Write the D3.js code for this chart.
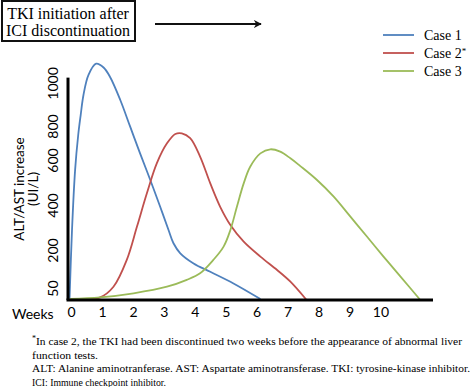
<!DOCTYPE html>
<html lang="en">
  <head>
    <meta charset="utf-8">
    <title>ALT/AST increase after TKI initiation</title>
    <style>
      body { margin: 0; background: #fff; }
      svg { display: block; }
    </style>
  </head>
  <body>
    <script src="https://d3js.org/d3.v7.min.js"></script>
    <script>
    // weeks after TKI initiation and ALT/AST values (UI/L)
    const case1Weeks = [-0.05, 0.03, 0.13, 0.23, 0.31, 0.40, 0.56, 0.81, 1.05, 1.26, 1.59, 1.91, 2.23, 2.56, 2.88, 3.15, 3.31, 3.53, 3.96, 4.5, 5.25, 6.12]
    const case1Vals  = [5, 290, 556, 747, 851, 944, 1037, 1090, 1072, 1028, 921, 796, 639, 511, 392, 289, 230, 187, 147, 114, 68, 4]

    const case2Weeks = [-0.05, 0.4, 0.94, 1.37, 1.8, 2.13, 2.45, 2.77, 3.1, 3.37, 3.58, 3.85, 4.17, 4.5, 4.82, 5.15, 5.58, 6.12, 6.66, 7.09, 7.6]
    const case2Vals  = [0, 2, 11, 55, 161, 304, 452, 585, 698, 753, 757, 728, 620, 496, 392, 311, 237, 174, 121, 75, 2]

    const case3Weeks = [-0.05, 0.94, 2.02, 3.1, 3.74, 4.17, 4.6, 4.93, 5.15, 5.36, 5.58, 5.79, 6.12, 6.44, 6.76, 7.09, 7.41, 7.95, 8.49, 9.03, 9.57, 10.1, 10.65, 11.27]
    const case3Vals  = [5, 11, 28, 55, 82, 108, 161, 215, 289, 392, 496, 570, 639, 663, 649, 610, 573, 511, 437, 348, 259, 174, 95, 3]

    const caseNames = ["Case 1", "Case 2", "Case 3"]
    const xTicks = [0, 1, 2, 3, 4, 5, 6, 7, 8, 9, 10]
    const yTicks = [50, 200, 400, 600, 800, 1000]

    const footLines = [
      "In case 2, the TKI had been discontinued two weeks before the appearance of abnormal liver",
      "function tests.",
      "ALT: Alanine aminotranferase. AST: Aspartate aminotransferase. TKI: tyrosine-kinase inhibitor.",
      "ICI: Immune checkpoint inhibitor."
    ]
    const footWidths = [426, 66, 438, 134]

    const w = 474
    const h = 387
    const colors = ["#4f81bd", "#c0504d", "#9bbb59"]
    const serif = "'Liberation Serif', serif"
    const sans = "Lato, 'Open Sans', sans-serif"

    const svg = d3.select("body").append("svg")
      .attr("width", w)
      .attr("height", h)

    // the hand drawn y axis is not evenly spaced, so a polylinear scale
    const xScale = d3.scaleLinear().domain([-0.1, 11.7]).range([68, 433])
    const yScale = d3.scaleLinear()
      .domain([0, 50, 200, 400, 600, 800, 1000])
      .range([300, 288, 250, 205, 160, 126, 83])

    const series = [
      {name: caseNames[0], weeks: case1Weeks, vals: case1Vals},
      {name: caseNames[1], weeks: case2Weeks, vals: case2Vals},
      {name: caseNames[2], weeks: case3Weeks, vals: case3Vals}
    ]

    const line = d3.line()
      .x(d => xScale(d[0]))
      .y(d => yScale(d[1]))
      .curve(d3.curveCatmullRom.alpha(0.5))

    svg.selectAll(".case")
      .data(series)
      .enter().append("path")
      .attr("class", "case")
      .attr("d", s => line(s.weeks.map((wk, i) => [wk, s.vals[i]])))
      .attr("fill", "none")
      .attr("stroke", (s, i) => colors[i])
      .attr("stroke-width", 1.8)

    // axes, drawn as thick black lines
    svg.append("line")
      .attr("x1", xScale(-0.1)).attr("x2", xScale(-0.1))
      .attr("y1", yScale(0)).attr("y2", yScale(1025))
      .attr("stroke", "#000").attr("stroke-width", 3)
    svg.append("line")
      .attr("x1", xScale(-0.1) - 1.5).attr("x2", xScale(11.7))
      .attr("y1", yScale(0)).attr("y2", yScale(0))
      .attr("stroke", "#000").attr("stroke-width", 3)

    const xAxis = svg.append("g")
      .attr("transform", `translate(0, ${yScale(0)})`)
      .call(d3.axisBottom(xScale).tickValues(xTicks).tickSize(0).tickPadding(7))
    xAxis.select(".domain").remove()
    xAxis.selectAll("text")
      .style("font-family", sans).style("font-size", "14px").attr("fill", "#000")

    const yAxis = svg.append("g")
      .attr("transform", `translate(${xScale(-0.1)}, 0)`)
      .call(d3.axisLeft(yScale).tickValues(yTicks).tickFormat(d3.format("d")).tickSize(0))
    yAxis.select(".domain").remove()
    yAxis.selectAll("text")
      .attr("x", 0).attr("dy", null)
      .attr("transform", "translate(-16, 0) rotate(-90)")
      .attr("text-anchor", "middle")
      .attr("dominant-baseline", "central")
      .style("font-family", sans).style("font-size", "14px").attr("fill", "#000")

    svg.append("text")
      .attr("x", 12).attr("y", yScale(0) + 13)
      .attr("dominant-baseline", "central")
      .style("font-family", sans).style("font-size", "14px")
      .text("Weeks")

    const ytitle = svg.append("text")
      .attr("transform", "translate(20, 189) rotate(-90)")
      .attr("text-anchor", "middle")
      .style("font-family", sans).style("font-size", "13.5px")
    ytitle.append("tspan").attr("x", 0).attr("dy", "0.3em").text("ALT/AST increase")
    ytitle.append("tspan").attr("x", 0).attr("dy", "1.05em").text("(UI/L)")

    // boxed label and arrow in the top left
    svg.append("rect")
      .attr("x", 2).attr("y", 1).attr("width", 133).attr("height", 40)
      .attr("fill", "#fff").attr("stroke", "#111").attr("stroke-width", 2)
    const boxText = svg.append("text")
      .attr("text-anchor", "middle")
      .style("font-family", serif).style("font-size", "16px")
    boxText.append("tspan").attr("x", 68).attr("y", 19).text("TKI initiation after")
    boxText.append("tspan").attr("x", 68).attr("y", 36).text("ICI discontinuation")

    svg.append("defs").append("marker")
      .attr("id", "head")
      .attr("viewBox", "0 0 10 10")
      .attr("refX", 9).attr("refY", 5)
      .attr("markerWidth", 4).attr("markerHeight", 4)
      .attr("orient", "auto")
      .append("path").attr("d", "M0,0 L10,5 L0,10 L3,5 Z").attr("fill", "#111")
    svg.append("line")
      .attr("x1", 155).attr("x2", 261).attr("y1", 24).attr("y2", 24)
      .attr("stroke", "#111").attr("stroke-width", 2)
      .attr("marker-end", "url(#head)")

    // legend
    const legend = svg.selectAll(".legend")
      .data(series)
      .enter().append("g")
      .attr("class", "legend")
      .attr("transform", (d, i) => `translate(383, ${35 + i * 18})`)
    legend.append("line")
      .attr("x1", 0).attr("x2", 31)
      .attr("stroke", (d, i) => colors[i]).attr("stroke-width", 1.8)
    const legText = legend.append("text")
      .attr("x", 41).attr("dy", "0.35em")
      .style("font-family", serif).style("font-size", "14px")
      .text(d => d.name)
    legText.filter((d, i) => i === 1).append("tspan")
      .attr("dy", "-0.45em").style("font-size", "9px").text("*")

    // footnote, each line fitted to the width it has in the figure
    footLines.forEach((t, i) => {
      const y = 345 + i * 13.5
      const x = i === 0 ? 36 : 32
      if (i === 0) {
        svg.append("text").attr("x", 32).attr("y", y - 4)
          .style("font-family", serif).style("font-size", "8px").text("*")
      }
      svg.append("text")
        .attr("x", x).attr("y", y)
        .attr("textLength", footWidths[i])
        .attr("lengthAdjust", "spacingAndGlyphs")
        .style("font-family", serif).style("font-size", "11.2px")
        .text(t)
    })
    </script>
  </body>
</html>
